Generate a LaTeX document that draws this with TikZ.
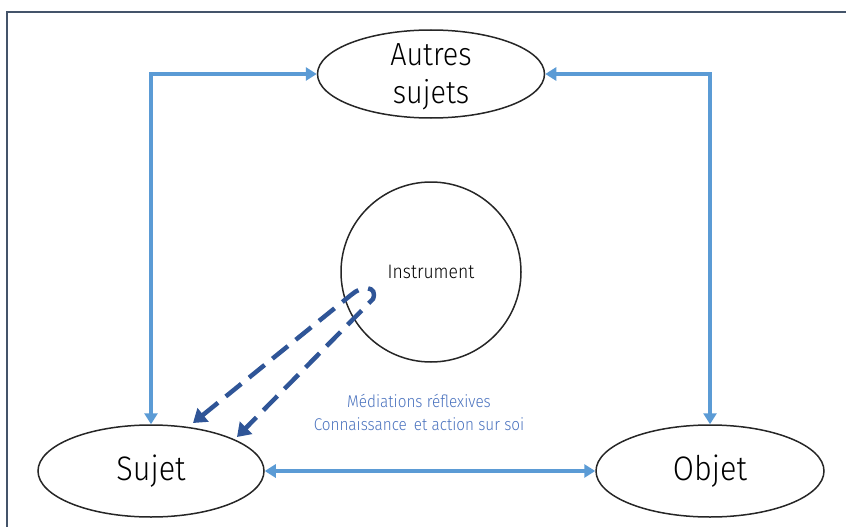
\documentclass[tikz,border=0pt]{standalone}
\usepackage{fontspec}
\setmainfont{Fira Sans Light}[FakeStretch=0.9]
\usetikzlibrary{shapes.geometric,arrows.meta}
\definecolor{framec}{HTML}{44546A}
\definecolor{lblue}{HTML}{5B9BD5}
\definecolor{dblue}{HTML}{2F5597}
\definecolor{tblue}{HTML}{4A72BE}
\tikzset{
  ell/.style={draw=black!85, line width=1.5pt, ellipse, inner sep=0pt},
  link/.style={draw=lblue, line width=3.5pt, {Triangle[length=11pt,width=13pt]}-{Triangle[length=11pt,width=13pt]}},
  refl/.style={draw=dblue, line width=4.5pt, dash pattern=on 20pt off 10pt, {Triangle[length=13pt,width=17pt]}-{Triangle[length=13pt,width=17pt]}},
}
\begin{document}
\begin{tikzpicture}[x=1pt,y=-1pt]
\useasboundingbox (0,0) rectangle (846,527);
\draw[framec, line width=2.5pt] (7,530) -- (7,12) -- (850,12);
\node[ell, minimum width=227pt, minimum height=88pt, align=center, text depth=0pt, font=\fontsize{32}{38}\selectfont] (autres) at (431,74) {Autres\\sujets};
\node[ell, circle, minimum size=180pt, font=\fontsize{19.5}{22}\selectfont] (instr) at (431,272) {Instrument};
\node[ell, minimum width=226pt, minimum height=92pt, font=\fontsize{34}{36}\selectfont] (sujet) at (151,471) {Sujet};
\node[ell, minimum width=228pt, minimum height=92pt, font=\fontsize{34}{36}\selectfont] (objet) at (710,471) {Objet};
\node[text=tblue, align=center, font=\fontsize{17}{23}\selectfont] (medi) at (419,412) {Médiations réflexives\\Connaissance\, et action sur soi};
\path[link] (autres.west) -| (sujet.north);
\path[link] (autres.east) -| (objet.north);
\path[link] (sujet.east) -- (objet.west);
\coordinate (t1) at (193,423);
\coordinate (t2) at (237,437);
\path[refl] (t1) -- (351,295) .. controls (362,285) and (378,286) .. (373,299) -- (t2);
\end{tikzpicture}
\end{document}
